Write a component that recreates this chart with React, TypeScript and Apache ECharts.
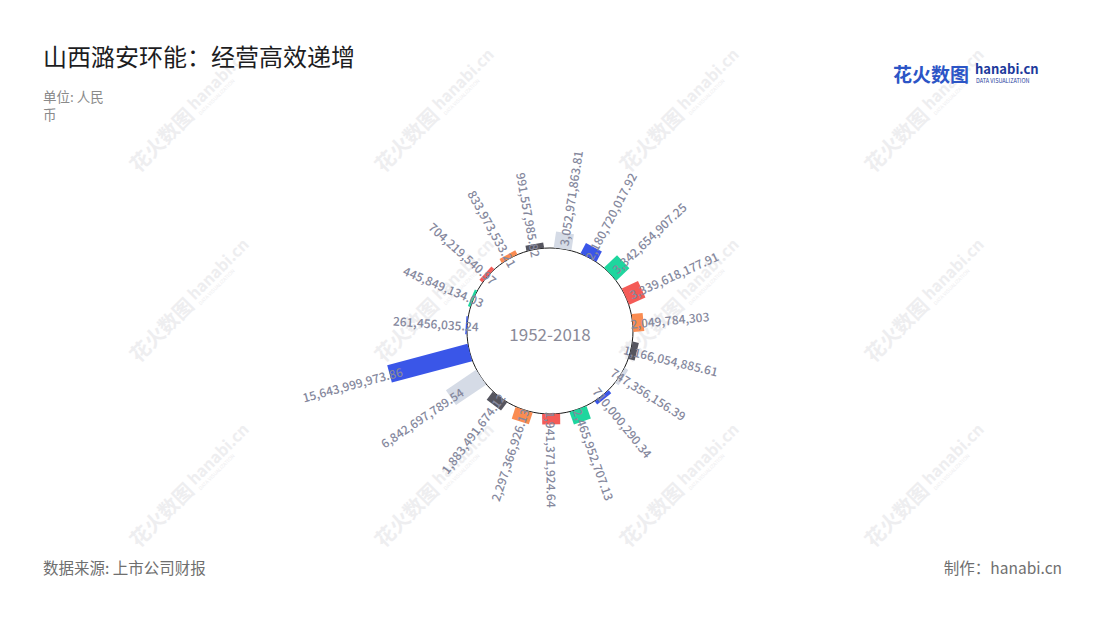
import React, { useEffect, useRef } from "react";
import * as echarts from "echarts";

const title = "山西潞安环能：经营高效递增";
const unitLine1 = "单位: 人民";
const unitLine2 = "币";
const sourceText = "数据来源: 上市公司财报";
const makerText = "制作：hanabi.cn";
const centerText = "1952-2018";

const categories = [
  "2000", "2001", "2002", "2003", "2004", "2005", "2006", "2007", "2008", "2009",
  "2010", "2011", "2012", "2013", "2014", "2015", "2016", "2017", "2018",
];
const values = [
  261456035.24, 445849134.03, 704219540.97, 833973533.21, 991557985.82,
  3052971863.81, 2180720017.92, 3342654907.25, 3339618177.91, 2049784303,
  1166054885.61, 747356156.39, 710000290.34, 2465952707.13, 1941371924.64,
  2297366926.13, 1883491674.12, 6842697789.54, 15643999973.86,
];
const palette = ["#3a56e8", "#1ed69e", "#f45b57", "#fa8c52", "#55555f", "#d5dbe6"];

const FONT = '"Noto Sans CJK SC", "Noto Sans", sans-serif';
const fmt = new Intl.NumberFormat("en-US", { maximumFractionDigits: 2 });

const wmCols = [175, 420, 665, 910];
const wmRows = [125, 315, 500];

export default function App() {
  const ref = useRef<HTMLDivElement>(null);
  useEffect(() => {
    document.body.style.margin = "0";
    const chart = echarts.init(ref.current!, null, { renderer: "svg" });

    const watermarks: any[] = [];
    wmRows.forEach((y) =>
      wmCols.forEach((x) => {
        watermarks.push({
          type: "group",
          x,
          y,
          rotation: Math.PI / 4,
          z: 0,
          silent: true,
          children: [
            {
              type: "text",
              x: -60,
              y: 0,
              style: { text: "花火数图", font: `bold 20px ${FONT}`, fill: "#eeeef0", align: "left", verticalAlign: "middle" },
            },
            {
              type: "text",
              x: 24,
              y: -3,
              style: { text: "hanabi.cn", font: `bold 16px ${FONT}`, fill: "#eeeef0", align: "left", verticalAlign: "middle" },
            },
            {
              type: "text",
              x: 25,
              y: 9,
              style: { text: "DATA VISUALIZATION", font: `5px ${FONT}`, fill: "#eeeef0", align: "left", verticalAlign: "middle" },
            },
          ],
        });
      })
    );

    const option: any = {
      animation: false,
      backgroundColor: "#ffffff",
      polar: { center: [550, 331], radius: [83, 168] },
      angleAxis: {
        type: "category",
        data: categories,
        startAngle: 185.5,
        clockwise: true,
        show: false,
      },
      radiusAxis: { type: "value", min: 0, max: 16e9, show: false },
      graphic: [
        ...watermarks,
        {
          type: "text",
          x: 43,
          y: 55,
          z: 10,
          style: { text: title, font: `24px ${FONT}`, fill: "#1d1d1f", align: "left", verticalAlign: "middle" },
        },
        {
          type: "text",
          x: 43,
          y: 96,
          z: 10,
          style: { text: unitLine1, font: `13.5px ${FONT}`, fill: "#8a8a8a", align: "left", verticalAlign: "middle" },
        },
        {
          type: "text",
          x: 43,
          y: 114,
          z: 10,
          style: { text: unitLine2, font: `13.5px ${FONT}`, fill: "#8a8a8a", align: "left", verticalAlign: "middle" },
        },
        {
          type: "text",
          x: 43,
          y: 567,
          z: 10,
          style: { text: sourceText, font: `15.5px ${FONT}`, fill: "#6f6f6f", align: "left", verticalAlign: "middle" },
        },
        {
          type: "text",
          x: 1062,
          y: 567,
          z: 10,
          style: { text: makerText, font: `15.5px ${FONT}`, fill: "#6f6f6f", align: "right", verticalAlign: "middle" },
        },
        {
          type: "text",
          x: 893,
          y: 73,
          z: 10,
          style: { text: "花火数图", font: `bold 19px ${FONT}`, fill: "#2c55c6", align: "left", verticalAlign: "middle" },
        },
        {
          type: "text",
          x: 975,
          y: 68,
          z: 10,
          style: { text: "hanabi.cn", font: `bold 13px ${FONT}`, fill: "#1d3a9c", align: "left", verticalAlign: "middle" },
        },
        {
          type: "text",
          x: 976,
          y: 81,
          z: 10,
          style: { text: "DATA VISUALIZATION", font: `5.5px ${FONT}`, fill: "#1d3a9c", align: "left", verticalAlign: "middle" },
        },
        {
          type: "circle",
          z: 3,
          silent: true,
          shape: { cx: 550, cy: 331, r: 83 },
          style: { fill: "none", stroke: "#1a1a1a", lineWidth: 1 },
        },
        {
          type: "text",
          x: 550,
          y: 333,
          z: 10,
          style: { text: centerText, font: `17px ${FONT}`, fill: "#8b8b99", align: "center", verticalAlign: "middle" },
        },
      ],
      series: [
        {
          type: "custom",
          coordinateSystem: "polar",
          z: 5,
          data: values.map((v, i) => [v, i]),
          encode: { radius: 0, angle: 1 },
          renderItem: (params: any, api: any) => {
            const v = api.value(0);
            const idx = api.value(1);
            const cs = params.coordSys;
            const cx = cs.cx;
            const cy = cs.cy;
            const p0 = api.coord([0, idx]);
            const p1 = api.coord([v, idx]);
            let ux = p0[0] - cx;
            let uy = p0[1] - cy;
            const l = Math.hypot(ux, uy);
            ux /= l;
            uy /= l;
            const nx = -uy;
            const ny = ux;
            const hw = 9;
            const points = [
              [p0[0] + nx * hw, p0[1] + ny * hw],
              [p1[0] + nx * hw, p1[1] + ny * hw],
              [p1[0] - nx * hw, p1[1] - ny * hw],
              [p0[0] - nx * hw, p0[1] - ny * hw],
            ];
            const rOuter = Math.hypot(p1[0] - cx, p1[1] - cy);
            const rA = rOuter - 13;
            const ax = cx + ux * rA;
            const ay = cy + uy * rA;
            const right = ux >= 0;
            const rotation = right ? -Math.atan2(uy, ux) : -Math.atan2(-uy, -ux);
            const color = palette[idx % palette.length];
            return {
              type: "group",
              children: [
                { type: "polygon", shape: { points }, style: { fill: color } },
                {
                  type: "text",
                  x: ax,
                  y: ay,
                  rotation,
                  z2: 10,
                  style: {
                    text: fmt.format(values[idx]),
                    font: `500 12px ${FONT}`,
                    fill: "#85889d",
                    align: right ? "left" : "right",
                    textAlign: right ? "left" : "right",
                    verticalAlign: "middle",
                    textVerticalAlign: "middle",
                  },
                },
              ],
            };
          },
        },
      ],
    };
    chart.setOption(option);
    return () => chart.dispose();
  }, []);
  return <div ref={ref} style={{ width: 1100, height: 620 }} />;
}
